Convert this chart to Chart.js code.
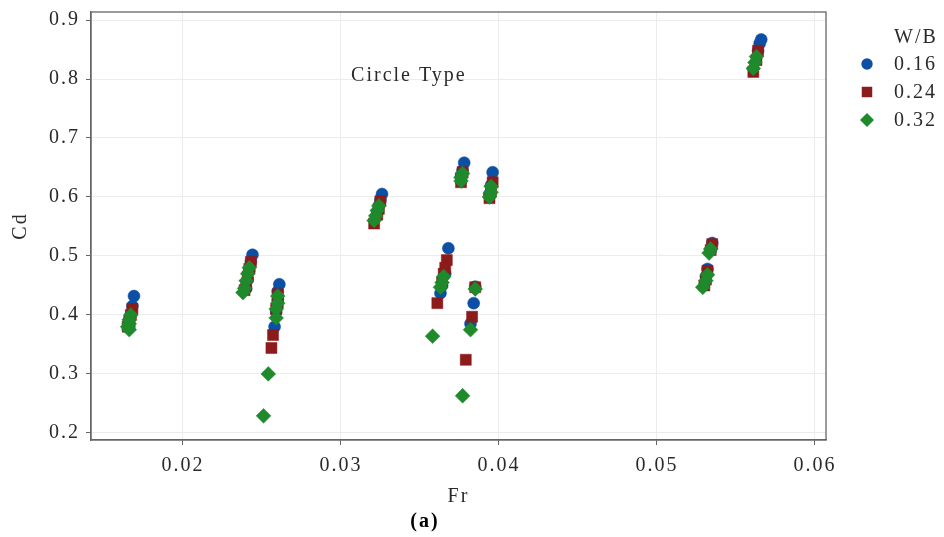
<!DOCTYPE html>
<html>
<head>
<meta charset="utf-8">
<script src="https://cdn.jsdelivr.net/npm/chart.js@4.4.1/dist/chart.umd.min.js"></script>
<style>
  html, body { margin: 0; padding: 0; background: #ffffff; }
  #wrap { position: relative; width: 944px; height: 537px; }
</style>
</head>
<body>
<div id="wrap"><canvas id="c" width="944" height="537"></canvas></div>
<script>
// ---- data ----
const seriesLabels = ['0.16', '0.24', '0.32'];
const legendTitle = 'W/B';
const xTickValues = [0.02, 0.03, 0.04, 0.05, 0.06];
const xTickLabels = ['0.02', '0.03', '0.04', '0.05', '0.06'];
const yTickValues = [0.2, 0.3, 0.4, 0.5, 0.6, 0.7, 0.8, 0.9];
const yTickLabels = ['0.2', '0.3', '0.4', '0.5', '0.6', '0.7', '0.8', '0.9'];

// W/B = 0.16
const fr016 = [0.0169, 0.0168, 0.0167, 0.0166, 0.0166,
  0.0244, 0.0243, 0.0242, 0.0241, 0.0240,
  0.0261, 0.0260, 0.0260, 0.0259, 0.0258,
  0.0326, 0.0325, 0.0324, 0.0323,
  0.0368, 0.0366, 0.0364, 0.0363,
  0.0385, 0.0384, 0.0382,
  0.0378, 0.0377, 0.0376,
  0.0396, 0.0395, 0.0394,
  0.0535, 0.0534, 0.0532, 0.0531,
  0.0566, 0.0565, 0.0564];
const cd016 = [0.432, 0.415, 0.400, 0.390, 0.380,
  0.502, 0.490, 0.475, 0.460, 0.445,
  0.452, 0.440, 0.425, 0.405, 0.380,
  0.605, 0.595, 0.585, 0.575,
  0.513, 0.470, 0.450, 0.437,
  0.448, 0.420, 0.385,
  0.658, 0.645, 0.635,
  0.642, 0.620, 0.605,
  0.522, 0.510, 0.478, 0.465,
  0.867, 0.860, 0.848];

// W/B = 0.24
const fr024 = [0.0168, 0.0167, 0.0166, 0.0166, 0.0165,
  0.0243, 0.0242, 0.0241, 0.0240, 0.0239,
  0.0260, 0.0260, 0.0259, 0.0257, 0.0256,
  0.0325, 0.0324, 0.0323, 0.0321,
  0.0367, 0.0366, 0.0365, 0.0364, 0.0361,
  0.0385, 0.0383, 0.0379,
  0.0377, 0.0376, 0.0376,
  0.0396, 0.0395, 0.0394,
  0.0535, 0.0534, 0.0532, 0.0531, 0.0530,
  0.0564, 0.0563, 0.0561];
const cd024 = [0.410, 0.400, 0.390, 0.385, 0.380,
  0.490, 0.478, 0.465, 0.450, 0.442,
  0.435, 0.420, 0.410, 0.366, 0.344,
  0.593, 0.580, 0.570, 0.555,
  0.493, 0.480, 0.470, 0.455, 0.420,
  0.447, 0.397, 0.324,
  0.642, 0.632, 0.625,
  0.625, 0.610, 0.598,
  0.520, 0.510, 0.475, 0.460, 0.450,
  0.848, 0.832, 0.812];

// W/B = 0.32
const fr032 = [0.0167, 0.0166, 0.0166, 0.0165, 0.0166,
  0.0242, 0.0241, 0.0240, 0.0239, 0.0238,
  0.0260, 0.0260, 0.0259, 0.0259, 0.0254, 0.0251,
  0.0324, 0.0323, 0.0322, 0.0321,
  0.0365, 0.0364, 0.0363, 0.0358,
  0.0385, 0.0382, 0.0377,
  0.0377, 0.0376, 0.0376,
  0.0395, 0.0395, 0.0394,
  0.0534, 0.0533, 0.0532, 0.0531, 0.0529,
  0.0563, 0.0562, 0.0561];
const cd032 = [0.400, 0.392, 0.385, 0.380, 0.375,
  0.480, 0.470, 0.458, 0.445, 0.438,
  0.432, 0.420, 0.410, 0.395, 0.300, 0.229,
  0.585, 0.577, 0.568, 0.560,
  0.465, 0.455, 0.447, 0.364,
  0.444, 0.375, 0.263,
  0.640, 0.633, 0.627,
  0.618, 0.608, 0.600,
  0.512, 0.505, 0.468, 0.458, 0.447,
  0.838, 0.828, 0.818];

const annotationText = 'Circle Type';
const annotationFr = 0.0343;
const annotationCd = 0.805;
const captionText = '(a)';

// ---- styling ----
const FONT = "'Liberation Serif', 'DejaVu Serif', serif";
const FS = 20;
const SPACING = '2px';
const TEXT = '#2a2a2a';
const colors = ['#0c4fa4', '#8c1b1b', '#1f8a2c'];
const styles = ['circle', 'rect', 'rectRot'];
const radii = [6, 7.8, 7.4];
const drawOrder = [2, 1, 0];

function pts(xs, ys) { return xs.map((x, i) => ({ x: x, y: ys[i] })); }
const seriesData = [pts(fr016, cd016), pts(fr024, cd024), pts(fr032, cd032)];

const spacing = {
  id: 'spacing',
  beforeUpdate(chart) { chart.ctx.letterSpacing = SPACING; },
  beforeLayout(chart) { chart.ctx.letterSpacing = SPACING; },
  beforeDraw(chart) { chart.ctx.letterSpacing = SPACING; }
};

const extras = {
  id: 'extras',
  afterDraw(chart) {
    const { ctx, chartArea: a, scales } = chart;
    ctx.save();
    ctx.letterSpacing = SPACING;
    // panel border
    ctx.strokeStyle = '#666666';
    ctx.lineWidth = 1.3;
    ctx.strokeRect(a.left, a.top, a.right - a.left, a.bottom - a.top);
    // annotation
    ctx.fillStyle = TEXT;
    ctx.font = FS + 'px ' + FONT;
    ctx.textAlign = 'center';
    ctx.textBaseline = 'middle';
    ctx.fillText(annotationText, scales.x.getPixelForValue(annotationFr), scales.y.getPixelForValue(annotationCd));
    // caption
    ctx.fillStyle = '#000000';
    ctx.font = 'bold ' + FS + 'px ' + FONT;
    ctx.fillText(captionText, 425, 522);
    // legend
    ctx.fillStyle = TEXT;
    ctx.font = FS + 'px ' + FONT;
    ctx.textAlign = 'center';
    ctx.fillText(legendTitle, 916, 38);
    ctx.textAlign = 'left';
    for (let i = 0; i < seriesLabels.length; i++) {
      const y = 64 + i * 28;
      ctx.fillStyle = colors[i];
      ctx.strokeStyle = colors[i];
      Chart.helpers.drawPoint(ctx, { pointStyle: styles[i], radius: radii[i] * 0.95, borderWidth: 0 }, 867, y);
      ctx.fillStyle = TEXT;
      ctx.fillText(seriesLabels[i], 894, y + 1);
    }
    ctx.restore();
  }
};

new Chart(document.getElementById('c'), {
  type: 'scatter',
  data: {
    datasets: seriesData.map((d, i) => ({
      label: seriesLabels[i],
      data: d,
      order: drawOrder[i],
      pointStyle: styles[i],
      pointRadius: radii[i],
      pointHoverRadius: radii[i],
      backgroundColor: colors[i],
      borderColor: colors[i],
      borderWidth: 0.5
    }))
  },
  options: {
    responsive: false,
    animation: false,
    events: [],
    layout: { padding: { left: 0, top: 12, right: 118, bottom: 0 } },
    plugins: { legend: { display: false }, tooltip: { enabled: false } },
    scales: {
      x: {
        type: 'linear',
        min: 0.01418,
        max: 0.0607,
        afterBuildTicks(scale) { scale.ticks = xTickValues.map(v => ({ value: v })); },
        afterFit(scale) { scale.height = 97; scale.paddingLeft = 0; scale.paddingRight = 0; },
        ticks: {
          color: TEXT,
          font: { family: FONT, size: FS },
          padding: 9,
          maxRotation: 0,
          callback(v) { const k = xTickValues.findIndex(t => Math.abs(t - v) < 1e-9); return k >= 0 ? xTickLabels[k] : ''; }
        },
        grid: { color: '#ececec', lineWidth: 1, tickColor: '#666666', tickLength: 5, drawTicks: true },
        border: { color: '#666666', width: 1.3 },
        title: { display: true, text: 'Fr', color: TEXT, font: { family: FONT, size: FS }, padding: { top: 0, bottom: 28 } }
      },
      y: {
        type: 'linear',
        min: 0.188,
        max: 0.9136,
        afterBuildTicks(scale) { scale.ticks = yTickValues.map(v => ({ value: v })); },
        afterFit(scale) { scale.width = 91; scale.paddingTop = 0; scale.paddingBottom = 0; },
        ticks: {
          color: TEXT,
          font: { family: FONT, size: FS },
          padding: 6,
          callback(v) { const k = yTickValues.findIndex(t => Math.abs(t - v) < 1e-9); return k >= 0 ? yTickLabels[k] : ''; }
        },
        grid: { color: '#ececec', lineWidth: 1, tickColor: '#666666', tickLength: 5, drawTicks: true },
        border: { color: '#666666', width: 1.3 },
        title: { display: true, text: 'Cd', color: TEXT, font: { family: FONT, size: FS }, padding: { top: 9, bottom: 0 } }
      }
    }
  },
  plugins: [spacing, extras]
});
</script>
</body>
</html>
